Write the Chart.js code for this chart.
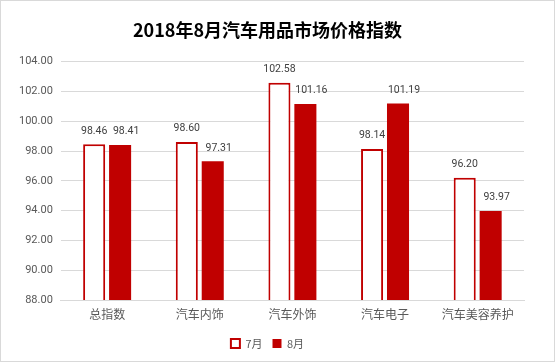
<!DOCTYPE html>
<html>
<head>
<meta charset="utf-8">
<script src="https://cdn.jsdelivr.net/npm/chart.js@4"></script>
<style>
  body { margin: 0; background: #fff; }
  #box { width: 553px; height: 360px; border: 1px solid #d9d9d9; position: relative; }
</style>
</head>
<body>
<div id="box"><canvas id="myChart" width="553" height="360"></canvas></div>
<script>
var categories = ["总指数", "汽车内饰", "汽车外饰", "汽车电子", "汽车美容养护"];
var july = [98.46, 98.60, 102.58, 98.14, 96.20];
var august = [98.41, 97.31, 101.16, 101.19, 93.97];
var yTicks = [88, 90, 92, 94, 96, 98, 100, 102, 104];

var fontFamily = "'Microsoft YaHei', 'Noto Sans CJK SC', 'DejaVu Sans', sans-serif";
var numFont = "Roboto, 'Liberation Sans', sans-serif";

// draws the value above each bar (8月 labels sit a bit to the right, like the original)
var valueLabels = {
    id: 'valueLabels',
    afterDatasetsDraw: function (chart) {
        var ctx = chart.ctx;
        ctx.save();
        ctx.font = "10.5px " + numFont;
        ctx.fillStyle = "#404040";
        ctx.textAlign = "center";
        ctx.textBaseline = "bottom";
        chart.data.datasets.forEach(function (ds, i) {
            var meta = chart.getDatasetMeta(i);
            var dx = i === 1 ? 6 : 0;
            meta.data.forEach(function (bar, j) {
                ctx.fillText(ds.data[j].toFixed(2), bar.x + dx, bar.y - 8);
            });
        });
        ctx.restore();
    }
};

var ctx = document.getElementById('myChart');
var myBarChart = new Chart(ctx, {
    type: 'bar',
    data: {
        labels: categories,
        datasets: [
            {
                label: "7月",
                data: july,
                backgroundColor: "#ffffff",
                borderColor: "#c00000",
                borderWidth: 2,
                borderSkipped: 'bottom',
                categoryPercentage: 0.56,
                barPercentage: 0.85
            },
            {
                label: "8月",
                data: august,
                backgroundColor: "#c00000",
                borderColor: "#c00000",
                borderWidth: 0,
                categoryPercentage: 0.56,
                barPercentage: 0.85
            }
        ]
    },
    options: {
        responsive: false,
        animation: false,
        layout: { padding: { left: 10, right: 30, top: 10, bottom: 2 } },
        plugins: {
            title: {
                display: true,
                text: "2018年8月汽车用品市场价格指数",
                color: "#000000",
                font: { family: fontFamily, size: 18, weight: 'bold' },
                padding: { top: 8, bottom: 21 }
            },
            legend: {
                position: 'bottom',
                labels: {
                    color: "#595959",
                    font: { family: fontFamily, size: 11 },
                    boxWidth: 9,
                    boxHeight: 9,
                    padding: 10
                }
            },
            tooltip: { enabled: false }
        },
        scales: {
            x: {
                grid: { display: false },
                border: { color: "#d9d9d9", width: 1 },
                ticks: { color: "#595959", font: { family: fontFamily, size: 12, lineHeight: 1 }, padding: 0 },
                afterFit: function (scale) { scale.height += 8; }
            },
            y: {
                min: 88,
                max: 104,
                afterBuildTicks: function (axis) {
                    axis.ticks = yTicks.map(function (v) { return { value: v }; });
                },
                grid: { color: "#d9d9d9", drawTicks: false },
                border: { display: false },
                ticks: {
                    color: "#595959",
                    font: { family: numFont, size: 11 },
                    padding: 8,
                    callback: function (v) { return Number(v).toFixed(2); }
                }
            }
        }
    },
    plugins: [valueLabels]
});
</script>
</body>
</html>
